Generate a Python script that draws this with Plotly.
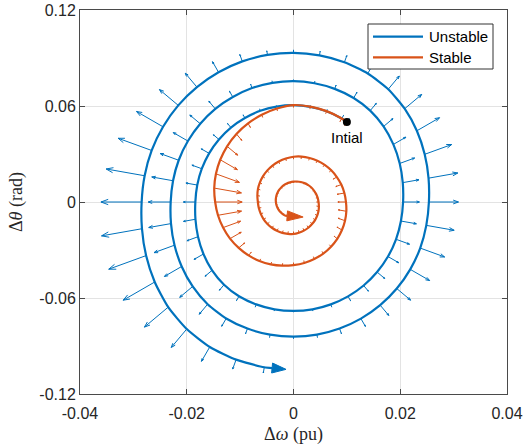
import math
import plotly.graph_objects as go

# ---------------- data ----------------
series_names = ["Unstable", "Stable"]

# unstable trajectory (Δω in pu, Δθ in rad) starting at the initial point
unstable_dw = [
    0.01, 0.00904, 0.00619, 0.00315, 0.0, -0.00316, -0.00622, -0.0091, -0.01172, -0.01397,
    -0.01581, -0.01718, -0.01803, -0.01839, -0.01837, -0.01789, -0.01687, -0.01525, -0.01301, -0.01021,
    -0.00699, -0.00356, 0.0, 0.00356, 0.00699, 0.01022, 0.01314, 0.01566, 0.0177, 0.01921,
    0.02013, 0.02053, 0.02047, 0.0199, 0.01871, 0.01687, 0.01437, 0.01127, 0.00772, 0.00393,
    0.0, -0.00395, -0.00777, -0.01137, -0.01465, -0.01747, -0.01978, -0.02151, -0.02257, -0.02301,
    -0.02295, -0.02229, -0.02095, -0.01889, -0.01609, -0.01261, -0.00863, -0.00439, 0.0, 0.00439,
    0.00863, 0.01263, 0.01624, 0.01935, 0.02187, 0.02374, 0.02488, 0.02537, 0.0253, 0.02458,
    0.02311, 0.02083, 0.01775, 0.01391, 0.00953, 0.00486, 0.0, -0.00487, -0.00959, -0.01404,
    -0.01809, -0.02159, -0.02444, -0.02657, -0.02789, -0.02845, -0.02839, -0.02762, -0.026, -0.02347,
    -0.02, -0.01569, -0.01075, -0.00547,
]
unstable_dtheta = [
    0.05, 0.0522, 0.0567, 0.0595, 0.0605, 0.0596, 0.057, 0.0525, 0.0465, 0.0391,
    0.0304, 0.0208, 0.0106, 0.0, -0.0108, -0.0217, -0.0325, -0.0427, -0.0517, -0.0589,
    -0.064, -0.0671, -0.0681, -0.0671, -0.064, -0.059, -0.0522, -0.0438, -0.0341, -0.0233,
    -0.0119, 0.0, 0.0121, 0.0241, 0.036, 0.0472, 0.0571, 0.065, 0.0707, 0.0742,
    0.0755, 0.0744, 0.0712, 0.0656, 0.0582, 0.0489, 0.0381, 0.0261, 0.0133, 0.0,
    -0.0135, -0.027, -0.0403, -0.0528, -0.0639, -0.0728, -0.0791, -0.0829, -0.0841, -0.0829,
    -0.0791, -0.0729, -0.0645, -0.0541, -0.0421, -0.0288, -0.0146, 0.0, 0.0149, 0.0298,
    0.0445, 0.0583, 0.0705, 0.0803, 0.0873, 0.0916, 0.0932, 0.0919, 0.0879, 0.0811,
    0.0718, 0.0604, 0.047, 0.0322, 0.0164, 0.0, -0.0167, -0.0335, -0.05, -0.0657,
    -0.0794, -0.0906, -0.0985, -0.1033,
]
# quiver components attached to the unstable trajectory
unstable_u = [
    0.000436, 0.000332, 0.000138, 0.00004, 0.0, -0.00004, -0.00014, -0.000339, -0.000648, -0.001044,
    -0.00147, -0.001853, -0.002123, -0.00225, -0.00224, -0.002077, -0.001761, -0.001333, -0.000869, -0.000467,
    -0.000194, -0.000057, 0.0, 0.000057, 0.000194, 0.000468, 0.000894, 0.001435, 0.002015, 0.002534,
    0.002894, 0.00306, 0.003034, 0.002797, 0.002355, 0.00177, 0.001149, 0.000616, 0.000256, 0.000075,
    0.0, -0.000076, -0.00026, -0.000632, -0.001211, -0.001954, -0.002751, -0.003474, -0.003985, -0.004213,
    -0.004173, -0.003844, -0.003233, -0.002428, -0.001575, -0.000843, -0.00035, -0.000102, 0.0, 0.000102,
    0.00035, 0.000846, 0.001614, 0.002591, 0.003638, 0.004575, 0.005223, 0.005535, 0.005486, 0.005051,
    0.004251, 0.003194, 0.002073, 0.00111, 0.000462, 0.000135, 0.0, -0.000137, -0.00047, -0.001141,
    -0.002187, -0.003528, -0.004974, -0.006283, -0.007207, -0.007628, -0.007575, -0.007, -0.005913, -0.004458,
    -0.0029, -0.001555, -0.000646, -0.000189,
]
unstable_v = [
    0.002164, 0.00192, 0.001264, 0.000762, 0.000578, 0.000767, 0.00128, 0.001955, 0.002574, 0.002921,
    0.002829, 0.002248, 0.00125, 0.0, -0.001319, -0.002519, -0.00339, -0.003731, -0.00345, -0.002695,
    -0.001776, -0.001068, -0.000806, -0.001068, -0.001776, -0.002705, -0.00355, -0.004017, -0.003878, -0.003074,
    -0.001704, 0.0, 0.001786, 0.003393, 0.004533, 0.004954, 0.004563, 0.003554, 0.002345, 0.001416,
    0.001074, 0.001428, 0.002386, 0.00365, 0.004809, 0.005468, 0.005296, 0.004214, 0.002347, 0.0,
    -0.002458, -0.004663, -0.006222, -0.006793, -0.006251, -0.004868, -0.003205, -0.001926, -0.001454, -0.001926,
    -0.003205, -0.004883, -0.006408, -0.007252, -0.007001, -0.005549, -0.003076, 0.0, 0.00323, 0.006127,
    0.008183, 0.008939, 0.008231, 0.006412, 0.004232, 0.002557, 0.001938, 0.002578, 0.004308, 0.00659,
    0.008685, 0.009873, 0.009573, 0.007622, 0.004244, 0.0, -0.004461, -0.008492, -0.01138, -0.012475,
    -0.011512, -0.008979, -0.005918, -0.00357,
]
unstable_end_tip = [-0.0014, -0.1046]

# stable trajectory
stable_dw = [
    0.01, 0.00904, 0.0062, 0.00316, 0.0, -0.0031, -0.00595, -0.00851, -0.01069, -0.01244,
    -0.01373, -0.01453, -0.01485, -0.01468, -0.01415, -0.0132, -0.01189, -0.01027, -0.00842, -0.00638,
    -0.00426, -0.00211, 0.0, 0.00202, 0.00389, 0.00558, 0.00703, 0.0082, 0.00908, 0.00965,
    0.0099, 0.00983, 0.00953, 0.00896, 0.00812, 0.00707, 0.00584, 0.00447, 0.00301, 0.0015,
    0.0, -0.00144, -0.00277, -0.00394, -0.00494, -0.00573, -0.00631, -0.00666, -0.00677, -0.00668,
    -0.0065, -0.00613, -0.00559, -0.00488, -0.00405, -0.00311, -0.0021, -0.00106, 0.0, 0.00102,
    0.00195, 0.00278, 0.00348, 0.00404, 0.00444, 0.00468, 0.00476, 0.00469, 0.00452, 0.00422,
    0.0038, 0.00329, 0.0027, 0.00205, 0.00137, 0.00068, 0.0, -0.00065, -0.00126, -0.00182,
    -0.0023, -0.0027, -0.003, -0.00321, -0.00331, -0.0033, -0.0032, -0.003, -0.00272, -0.00236,
    -0.00195, -0.00149,
]
stable_dtheta = [
    0.05, 0.0522, 0.0568, 0.0596, 0.0606, 0.0584, 0.0545, 0.0491, 0.0425, 0.0348,
    0.0264, 0.0176, 0.0087, 0.0, -0.0083, -0.016, -0.0229, -0.0287, -0.0334, -0.0369,
    -0.039, -0.0398, -0.0394, -0.0381, -0.0356, -0.0322, -0.0279, -0.023, -0.0175, -0.0117,
    -0.0058, 0.0, 0.0056, 0.0109, 0.0156, 0.0198, 0.0232, 0.0258, 0.0275, 0.0284,
    0.0283, 0.0272, 0.0253, 0.0228, 0.0196, 0.016, 0.0121, 0.0081, 0.004, 0.0,
    -0.0038, -0.0074, -0.0108, -0.0137, -0.0161, -0.018, -0.0193, -0.0199, -0.02, -0.0192,
    -0.0179, -0.0161, -0.0138, -0.0113, -0.0085, -0.0057, -0.0028, 0.0, 0.0027, 0.0051,
    0.0073, 0.0092, 0.0107, 0.0118, 0.0125, 0.0128, 0.0127, 0.0123, 0.0116, 0.0105,
    0.0091, 0.0076, 0.0058, 0.0039, 0.0019, 0.0, -0.0019, -0.0036, -0.0052, -0.0066,
    -0.0077, -0.0086,
]
stable_u = [
    -0.000418, -0.000328, -0.00018, -0.000082, 0.0, 0.000082, 0.000182, 0.000429, 0.001003, 0.001979,
    0.003222, 0.004397, 0.005092, 0.005063, 0.004407, 0.003294, 0.002091, 0.001113, 0.000489, 0.000234,
    0.00016, 0.000082, 0.0, -0.000082, -0.00016, -0.000234, -0.000301, -0.000567, -0.000934, -0.001288,
    -0.001509, -0.001517, -0.001348, -0.001029, -0.000667, -0.000363, -0.000301, -0.000234, -0.00016, -0.000082,
    0.0, 0.000082, 0.00016, 0.000234, 0.000301, 0.000359, 0.000406, 0.000441, 0.000484, 0.000476,
    0.000462, 0.000441, 0.000406, 0.000359, 0.000301, 0.000234, 0.00016, 0.000082, 0.0, -0.000082,
    -0.00016, -0.000234, -0.000301, -0.000359, -0.000406, -0.000441, -0.000462, -0.000413, -0.000332, -0.000212,
    -0.000195, -0.000172, -0.000145, -0.000113, -0.000077, -0.000039, 0.0, 0.000039, 0.000077, 0.000113,
    0.000145, 0.000172, 0.000195, 0.000212, 0.000222, 0.000225, 0.000222, 0.000212, 0.000195, 0.000172,
    0.000145, 0.000113,
]
stable_v = [
    -0.002075, -0.001894, -0.001645, -0.001539, -0.001563, -0.001539, -0.001669, -0.002479, -0.003983, -0.005538,
    -0.0062, -0.005333, -0.002998, 0.0, 0.002595, 0.003995, 0.004025, 0.003115, 0.001944, 0.001353,
    0.001469, 0.001539, 0.001563, 0.001539, 0.001469, 0.001353, 0.001197, 0.001587, 0.001797, 0.001563,
    0.000888, 0.0, -0.000794, -0.001248, -0.001284, -0.001017, -0.001197, -0.001353, -0.001469, -0.001539,
    -0.001563, -0.001539, -0.001469, -0.001353, -0.001197, -0.001005, -0.000781, -0.000534, -0.000285, 0.0,
    0.000272, 0.000534, 0.000781, 0.001005, 0.001197, 0.001353, 0.001469, 0.001539, 0.001563, 0.001539,
    0.001469, 0.001353, 0.001197, 0.001005, 0.000781, 0.000534, 0.000272, 0.0, -0.000196, -0.000257,
    -0.000375, -0.000482, -0.000575, -0.00065, -0.000705, -0.000739, -0.00075, -0.000739, -0.000705, -0.00065,
    -0.000575, -0.000482, -0.000375, -0.000257, -0.000131, 0.0, 0.000131, 0.000257, 0.000375, 0.000482,
    0.000575, 0.00065,
]
stable_end_tip = [0.0018, -0.0094]

initial_dw = [0.01]
initial_dtheta = [0.05]
initial_label = "Intial"

x_tick_vals = [-0.04, -0.02, 0, 0.02, 0.04]
x_tick_text = ["-0.04", "-0.02", "0", "0.02", "0.04"]
y_tick_vals = [-0.12, -0.06, 0, 0.06, 0.12]
y_tick_text = ["-0.12", "-0.06", "0", "0.06", "0.12"]
x_range = [-0.04, 0.04]
y_range = [-0.12, 0.12]

assert len(unstable_dw) == len(unstable_dtheta) == len(unstable_u) == len(unstable_v)
assert len(stable_dw) == len(stable_dtheta) == len(stable_u) == len(stable_v)

# ---------------- styling / geometry ----------------
BLUE = "#0072BD"
ORANGE = "#D95319"
W, H = 523, 447
MARGIN = dict(l=80, r=16, t=10, b=53)
PW = W - MARGIN["l"] - MARGIN["r"]
PH = H - MARGIN["t"] - MARGIN["b"]
SX = PW / (x_range[1] - x_range[0])   # px per data unit (x)
SY = PH / (y_range[1] - y_range[0])   # px per data unit (y)


def quiver_paths(xs, ys, us, vs, head_frac=0.19, head_deg=20.0):
    px, py = [], []
    a = math.radians(head_deg)
    for x, y, u, v in zip(xs, ys, us, vs):
        tx, ty = x + u, y + v
        dx, dy = u * SX, v * SY
        L = math.hypot(dx, dy)
        if L < 0.3:
            continue
        px += [x, tx, None]
        py += [y, ty, None]
        h = head_frac * L
        if h >= 0.6:
            ux, uy = dx / L, dy / L
            pts = []
            for s in (1, -1):
                ca, sa = math.cos(s * a), math.sin(s * a)
                rx = ux * ca - uy * sa
                ry = ux * sa + uy * ca
                pts.append((tx - rx * h / SX, ty - ry * h / SY))
            px += [pts[0][0], tx, pts[1][0], None]
            py += [pts[0][1], ty, pts[1][1], None]
    return px, py


def end_arrow(xs, ys, tip, length_px, half_w_px):
    x0, y0 = xs[-1], ys[-1]
    dx, dy = (tip[0] - x0) * SX, (tip[1] - y0) * SY
    L = math.hypot(dx, dy)
    ux, uy = dx / L, dy / L
    bx, by = tip[0] - ux * length_px / SX, tip[1] - uy * length_px / SY
    nx, ny = -uy, ux
    tx = [tip[0], bx + nx * half_w_px / SX, bx - nx * half_w_px / SX, tip[0]]
    ty = [tip[1], by + ny * half_w_px / SY, by - ny * half_w_px / SY, tip[1]]
    return (bx, by), tx, ty


fig = go.Figure()

# unstable
(ub_x, ub_y), utri_x, utri_y = end_arrow(unstable_dw, unstable_dtheta, unstable_end_tip, 14, 5)
fig.add_trace(go.Scatter(x=unstable_dw + [ub_x], y=unstable_dtheta + [ub_y], mode="lines",
                         line=dict(color=BLUE, width=2.2, shape="spline", smoothing=0.6),
                         name=series_names[0], showlegend=False, hoverinfo="skip"))
qx, qy = quiver_paths(unstable_dw, unstable_dtheta, unstable_u, unstable_v)
fig.add_trace(go.Scatter(x=qx, y=qy, mode="lines", line=dict(color=BLUE, width=1),
                         showlegend=False, hoverinfo="skip"))
fig.add_trace(go.Scatter(x=utri_x, y=utri_y, mode="lines", fill="toself", fillcolor=BLUE,
                         line=dict(color=BLUE, width=1), showlegend=False, hoverinfo="skip"))

# stable
(sb_x, sb_y), stri_x, stri_y = end_arrow(stable_dw, stable_dtheta, stable_end_tip, 16, 5)
fig.add_trace(go.Scatter(x=stable_dw + [sb_x], y=stable_dtheta + [sb_y], mode="lines",
                         line=dict(color=ORANGE, width=2.2, shape="spline", smoothing=0.6),
                         name=series_names[1], showlegend=False, hoverinfo="skip"))
qx, qy = quiver_paths(stable_dw, stable_dtheta, stable_u, stable_v)
fig.add_trace(go.Scatter(x=qx, y=qy, mode="lines", line=dict(color=ORANGE, width=1),
                         showlegend=False, hoverinfo="skip"))
fig.add_trace(go.Scatter(x=stri_x, y=stri_y, mode="lines", fill="toself", fillcolor=ORANGE,
                         line=dict(color=ORANGE, width=1), showlegend=False, hoverinfo="skip"))

# initial point
fig.add_trace(go.Scatter(x=initial_dw, y=initial_dtheta, mode="markers",
                         marker=dict(color="black", size=8), showlegend=False, hoverinfo="skip"))

TICKFONT = dict(family="Liberation Sans, Arial, sans-serif", size=16, color="#262626")
AXIS_COMMON = dict(showline=True, linecolor="#4a4a4a", linewidth=1, mirror="ticks",
                   ticks="inside", ticklen=5, tickcolor="#4a4a4a", tickwidth=1,
                   showgrid=True, gridcolor="#e3e3e3", gridwidth=1, zeroline=False,
                   tickfont=TICKFONT, automargin=False)

fig.update_layout(
    width=W, height=H, margin=MARGIN,
    paper_bgcolor="white", plot_bgcolor="white",
    xaxis=dict(range=x_range, tickvals=x_tick_vals, ticktext=x_tick_text, ticklabelstandoff=5,
               title=dict(text="Δ<i>ω</i> (pu)", standoff=6,
                          font=dict(family="Liberation Serif, DejaVu Serif, serif", size=18, color="#262626")),
               **AXIS_COMMON),
    yaxis=dict(range=y_range, tickvals=y_tick_vals, ticktext=y_tick_text,
               title=dict(text="Δ<i>θ</i> (rad)", standoff=12,
                          font=dict(family="Liberation Serif, DejaVu Serif, serif", size=18, color="#262626")),
               **AXIS_COMMON),
    showlegend=False,
)

# initial label
fig.add_annotation(x=initial_dw[0], y=initial_dtheta[0], text=initial_label, showarrow=False,
                   yshift=-15, font=dict(family="Liberation Sans, Arial, sans-serif", size=15, color="black"))

# legend box (drawn in paper coordinates)
def px2paper_x(p):
    return (p - MARGIN["l"]) / PW


def px2paper_y(p):
    return (H - MARGIN["b"] - p) / PH


fig.add_shape(type="rect", xref="paper", yref="paper",
              x0=px2paper_x(368), x1=px2paper_x(493), y0=px2paper_y(69), y1=px2paper_y(24),
              line=dict(color="#333333", width=1), fillcolor="white", layer="above")
for name, color, ypx in ((series_names[0], BLUE, 36.7), (series_names[1], ORANGE, 57.3)):
    fig.add_shape(type="line", xref="paper", yref="paper",
                  x0=px2paper_x(373), x1=px2paper_x(423), y0=px2paper_y(ypx), y1=px2paper_y(ypx),
                  line=dict(color=color, width=2.2), layer="above")
    fig.add_annotation(xref="paper", yref="paper", x=px2paper_x(427), y=px2paper_y(ypx),
                       xanchor="left", yanchor="middle", text=name, showarrow=False,
                       font=dict(family="Liberation Sans, Arial, sans-serif", size=15, color="black"))

fig.write_html("out.html", config={"displayModeBar": False},
               post_script="document.body.style.margin='0';document.body.style.overflow='hidden';")
